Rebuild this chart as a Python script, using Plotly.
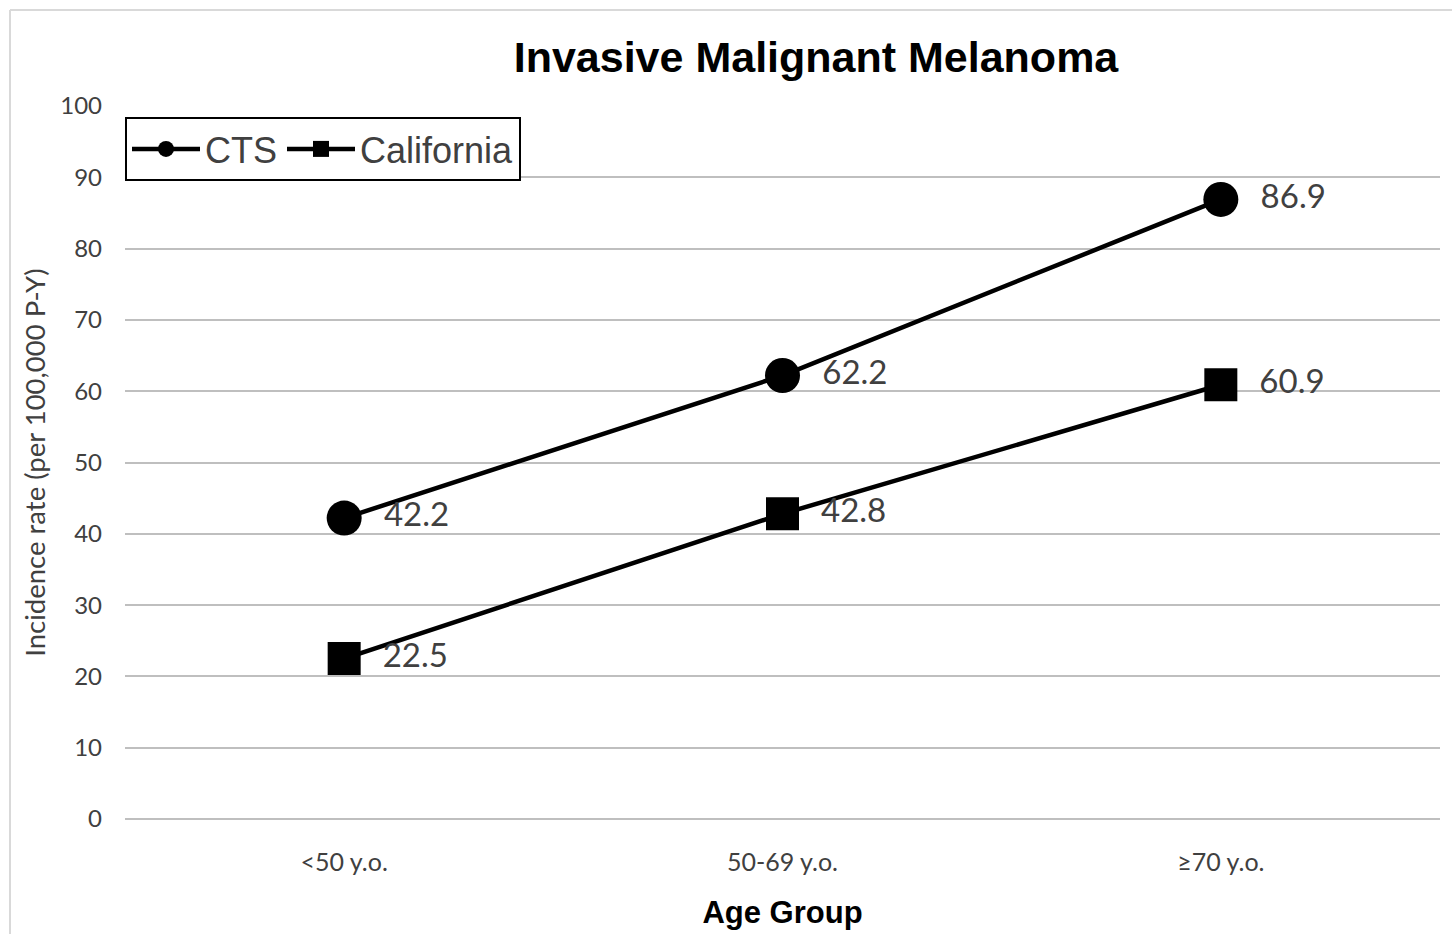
import plotly.graph_objects as go

# Incidence of invasive malignant melanoma by age group
age_groups = ["<50 y.o.", "50-69 y.o.", "≥70 y.o."]
cts_rates = [42.2, 62.2, 86.9]
california_rates = [22.5, 42.8, 60.9]
y_ticks = [0, 10, 20, 30, 40, 50, 60, 70, 80, 90, 100]

W, H = 1452, 934
L, R, T, B = 125, 12, 106, 115

label_font = dict(family="Lato, Open Sans, sans-serif", size=33, color="#404040")

fig = go.Figure()
fig.add_trace(go.Scatter(
    x=age_groups, y=cts_rates, name="CTS",
    mode="lines+markers+text",
    line=dict(color="black", width=4.5),
    marker=dict(symbol="circle", size=35, color="black"),
    text=[f"{v:.1f}" for v in cts_rates],
    texttemplate="  %{text}",
    textposition="middle right", textfont=label_font,
))
fig.add_trace(go.Scatter(
    x=age_groups, y=california_rates, name="California",
    mode="lines+markers+text",
    line=dict(color="black", width=4.5),
    marker=dict(symbol="square", size=33, color="black"),
    text=[f"{v:.1f}" for v in california_rates],
    texttemplate="  %{text}",
    textposition="middle right", textfont=label_font,
))

pw = W - L - R
ph = H - T - B
# light frame around the chart area
fig.add_shape(type="line", xref="paper", yref="paper",
              x0=(10 - L) / pw, x1=(10 - L) / pw, y0=-(H - T - ph) / ph - 0.01, y1=(H - 10 - B) / ph,
              line=dict(color="#d9d9d9", width=2))
fig.add_shape(type="line", xref="paper", yref="paper",
              x0=(10 - L) / pw, x1=1.02, y0=(H - 10 - B) / ph, y1=(H - 10 - B) / ph,
              line=dict(color="#d9d9d9", width=2))

fig.update_layout(
    width=W, height=H,
    margin=dict(l=L, r=R, t=T, b=B, autoexpand=False),
    paper_bgcolor="white", plot_bgcolor="white",
    title=dict(text="<b>Invasive Malignant Melanoma</b>",
               font=dict(family="Liberation Sans, Arial, sans-serif", size=43, color="black"),
               x=(816) / W, xanchor="center", y=1 - 57 / H, yanchor="middle"),
    showlegend=True,
    legend=dict(orientation="h", x=0, y=1 - 11 / ph, xanchor="left", yanchor="top",
                bgcolor="white", bordercolor="black", borderwidth=2,
                font=dict(family="Liberation Sans, Arial, sans-serif", size=36, color="#404040"),
                itemwidth=68, tracegroupgap=0),
    xaxis=dict(range=[-0.5, 2.5], showgrid=False, showline=False, ticks="",
               tickfont=dict(family="Lato, sans-serif", size=25, color="#404040"),
               ticklabelstandoff=26,
               title=dict(text="<b>Age Group</b>", standoff=26,
                          font=dict(family="Liberation Sans, Arial, sans-serif", size=31, color="black"))),
    yaxis=dict(range=[0, 100], tickvals=y_ticks, showgrid=True, gridcolor="#bfbfbf", gridwidth=2,
               zeroline=True, zerolinecolor="#bfbfbf", zerolinewidth=2, showline=False, ticks="",
               tickfont=dict(family="Lato, sans-serif", size=24, color="#404040"),
               ticklabelstandoff=22,
               title=dict(text="Incidence rate (per 100,000 P-Y)", standoff=6,
                          font=dict(family="Lato, sans-serif", size=27.5, color="#404040"))),
)

fig.write_html("out.html")
